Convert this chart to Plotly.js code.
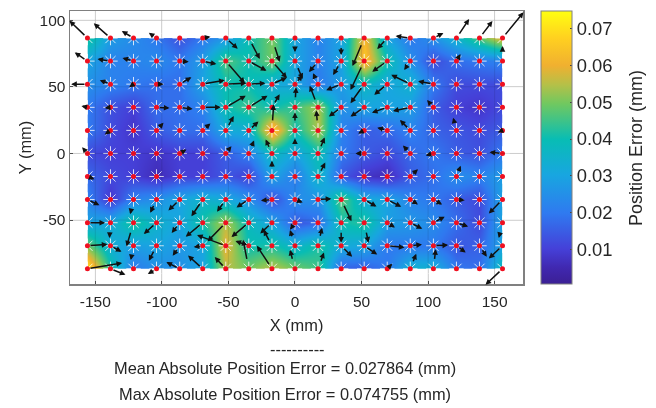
<!DOCTYPE html>
<html><head><meta charset="utf-8">
<script src="https://cdn.plot.ly/plotly-3.0.1.min.js"></script>
<style>html,body{margin:0;padding:0;background:#fff}#c{width:656px;height:408px;filter:blur(.45px)}</style>
</head><body><div id="c"></div>
<script>
const xGrid=[-155.9,-138.6,-121.3,-104,-86.6,-69.3,-52,-34.7,-17.3,0,17.3,34.7,52,69.3,86.6,104,121.3,138.6,155.9];
const yGrid=[86.6,69.3,52,34.6,17.3,0,-17.3,-34.6,-52,-69.3,-86.6];
const zErr=[
[.043,.028,.024,.02,.013,.02,.027,.04,.05,.03,.022,.03,.062,.03,.02,.025,.035,.047,.06],
[.03,.022,.022,.024,.02,.028,.047,.04,.05,.03,.022,.03,.066,.04,.025,.012,.018,.02,.022],
[.025,.022,.02,.018,.018,.03,.04,.04,.032,.03,.02,.028,.037,.03,.035,.02,.012,.012,.012],
[.02,.013,.01,.018,.018,.022,.04,.045,.04,.045,.054,.025,.03,.03,.028,.015,.01,.008,.012],
[.02,.012,.008,.015,.018,.018,.032,.033,.068,.04,.055,.022,.015,.017,.022,.016,.014,.012,.015],
[.012,.01,.01,.008,.01,.01,.015,.022,.038,.03,.04,.02,.015,.012,.017,.02,.015,.013,.02],
[.017,.012,.01,.006,.01,.01,.014,.01,.03,.02,.037,.014,.008,.006,.015,.018,.025,.022,.028],
[.022,.008,.022,.025,.03,.035,.032,.025,.012,.025,.025,.048,.032,.03,.022,.02,.015,.012,.03],
[.03,.032,.043,.035,.03,.042,.055,.038,.03,.014,.018,.04,.043,.028,.027,.024,.018,.012,.03],
[.05,.033,.028,.03,.027,.03,.06,.04,.042,.035,.042,.032,.03,.02,.02,.02,.014,.016,.03],
[.072,.042,.02,.025,.025,.03,.055,.05,.056,.05,.045,.015,.015,.02,.035,.034,.02,.018,.04]];
const uErr=[
[-18,-16.7,-11.7,-7.7,0,7.7,12,11,7.7,0,3,0,-11.7,-10,-14.7,10,12.7,13,21],
[-12.7,-13,-11,.7,9,13.7,19,17.7,15,7.7,-9,-8,-13.7,-15,-6,0,4,0,0],
[-16.3,-10.7,-4.3,7,11.7,22,20.7,16.7,15,7.7,-5,-15,-13.7,-13,-19,-15.3,3.3,4,0],
[-6,-5.7,0,13,13,18,20,18.7,7.7,1,-8.3,-12.3,-13.7,-15.3,-17.3,-6.3,0,0,0],
[0,-5.7,0,7,0,7.7,8,9.7,1.7,0,-1.7,0,-6,-10,-10.3,0,-3.3,0,-4.7],
[-5.3,0,-1,0,6.7,0,5.7,5.3,-6.3,0,6.7,0,-8.7,0,-7.3,-7.7,0,0,-13],
[7,2,0,0,0,0,-3.7,0,0,0,7.3,2,0,0,7.7,1,4.3,3.3,-1.3],
[12,0,-3.3,-6.3,-11.3,-11.3,-8.7,-12.3,-11,7.7,13.3,10.3,12.3,14,7.7,8.7,8.3,0,-13.7],
[17.7,-1,-7,-12.7,-8,-17,-18.3,-17.3,-11.7,-5,0,0,4.3,7.7,12,11.3,11.7,2.7,-3.7],
[20,11,-2.7,-7.7,-7,-9,-28.7,-13.3,-8.3,-5,4,11,13,17.3,11.7,14.7,9.3,7.3,-13.7],
[34.7,15,0,-8.7,-13.3,-14.7,-11,-5.7,-15,-5,6,0,2,5,6,2.3,-3.3,0,-17]];
const vErr=[
[17.3,14.7,7,5.3,-3,1.3,-10.7,-21,-23.7,-14,-5,-17,-28,-11,2,5,19,17,25.7],
[8.7,2,3,10,-.7,-3,-22,-9.7,-17,-18,-11,-14,-29,-10.7,-9,0,7,0,15],
[0,4,-3,0,7,4,1,1,6.7,9,11,-6,-19,-10.7,9.3,3,8.3,2,0],
[1.3,-.7,0,-.7,-1.7,0,11.7,11.7,13,20,21.7,-9.3,-9.3,-5.3,-3.7,7.3,0,0,0],
[0,-4,0,7.7,0,7,14.3,9,26,18,20,0,-3,2.7,10.3,0,12.7,0,-2],
[6.3,0,3,0,4,0,7.3,13,14,15,16,0,0,0,8,-2,5,0,1.3],
[-2.7,-3,0,0,0,0,-5.3,-3,15.7,0,14,-4,0,0,7.3,-3.7,10.7,-10.3,-11],
[-5.7,0,-14.7,-13.3,-11,-16.7,-12.3,-8,-1,-3,.7,-21.7,-7,-7.3,-5,-5,-.7,0,-14],
[0,-15.3,-23.7,-11.3,-10.3,-14,-18.7,-14.3,-10.7,-7,0,-20,-20,-4.7,-6,6,-3.7,-4.3,-15.3],
[1.3,-6,-14.3,-15,-10,-1.3,10.7,4.7,15.7,15.7,18,-11,-8.7,-1.7,1.3,.7,-6.7,-11,-12.7],
[5.7,-6,0,-5.3,6.7,13.3,11.7,29,23,19,16.3,0,-3,5,15,19.7,5,0,-16]];
const quiverScale=0.75;
const xTicks=[-150,-100,-50,0,50,100,150];
const xTickText=['-150','-100','-50','0','50','100','150'];
const yTicks=[-50,0,50,100];
const yTickText=['-50','0','50','100'];
const cbTicks=[.01,.02,.03,.04,.05,.06,.07];
const cScale=[[0,'#3b1f94'],[.06,'#4028b0'],[.128,'#4540d8'],[.26,'#2f7af0'],[.4,'#18a6e0'],[.53,'#08bdb4'],[.66,'#70c860'],[.73,'#b5c048'],[.8,'#f0b030'],[.9,'#ffd020'],[1,'#ffff10']];
const footLines=['----------','Mean Absolute Position Error = 0.027864 (mm)','Max Absolute Position Error = 0.074755 (mm)'];
const footX=[297,285,285];
const footY=[349,368,394];
const cbTitle='Position Error (mm)';
const FONT='"Liberation Sans",Arial,sans-serif', TXT='#262626';

const px=[],py=[];
yGrid.forEach(y=>xGrid.forEach(x=>{px.push(x);py.push(y);}));
const arrows=[];
yGrid.forEach((y,r)=>xGrid.forEach((x,c)=>{
  const u=uErr[r][c],v=vErr[r][c];
  if(u===0&&v===0)return;
  arrows.push({x:x+u*quiverScale,y:y+v*quiverScale,ax:x,ay:y,xref:'x',yref:'y',axref:'x',ayref:'y',
    showarrow:true,arrowhead:2,arrowsize:.75,arrowwidth:1.5,arrowcolor:'#111',standoff:0});
}));
const feet=footLines.map((t,i)=>({text:t,xref:'paper',yref:'paper',x:(footX[i]-70)/453,y:(284-footY[i])/273,
  xanchor:'center',yanchor:'middle',showarrow:false,font:{family:FONT,size:16.4,color:TXT}}));
feet.push({text:cbTitle,xref:'paper',yref:'paper',x:(636-70)/453,y:(284-148)/273,xanchor:'center',yanchor:'middle',
  textangle:-90,showarrow:false,font:{family:FONT,size:18,color:TXT}});
const grids=[...xTicks.map(v=>({type:'line',xref:'x',yref:'paper',x0:v,x1:v,y0:0,y1:1,line:{color:'rgba(0,0,0,.1)',width:1},layer:'above'})),
             ...yTicks.map(v=>({type:'line',yref:'y',xref:'paper',y0:v,y1:v,x0:0,x1:1,line:{color:'rgba(0,0,0,.1)',width:1},layer:'above'}))];
const axis={showline:true,mirror:true,linecolor:'#808080',linewidth:1.5,ticks:'inside',ticklen:3,tickcolor:'#555',
  showgrid:true,gridcolor:'#e4e4e4',zeroline:false,tickfont:{family:FONT,size:15.5,color:TXT}};
Plotly.newPlot('c',[
 {type:'contour',x:xGrid,y:yGrid,z:zErr,zmin:.0006,zmax:.0748,zauto:false,colorscale:cScale,
  contours:{coloring:'heatmap',showlines:false},line:{width:0},hoverinfo:'skip',
  colorbar:{x:(541-70)/453,xanchor:'left',xpad:0,ypad:0,y:0,yanchor:'bottom',len:1,thickness:31,
    tickvals:cbTicks,tickformat:'.2f',ticks:'inside',ticklen:2,tickcolor:'#444',outlinecolor:'#808080',outlinewidth:1,
    tickfont:{family:FONT,size:18.4,color:TXT},ticklabelposition:'outside'}},
 {type:'scatter',mode:'markers',x:px,y:py,hoverinfo:'skip',cliponaxis:false,
  marker:{symbol:'asterisk-open',size:12,color:'rgba(255,255,255,.8)',line:{color:'rgba(255,255,255,.8)',width:1}}},
 {type:'scatter',mode:'markers',x:px,y:py,hoverinfo:'skip',cliponaxis:false,
  marker:{symbol:'circle',size:5,color:'#f01020'}}
],{
 width:656,height:408,margin:{l:70,r:133,t:11,b:124},showlegend:false,paper_bgcolor:'#fff',plot_bgcolor:'#fff',
 xaxis:Object.assign({},axis,{range:[-169,171.3],tickmode:'array',tickvals:xTicks,ticktext:xTickText,ticklabelstandoff:3,title:{text:'X (mm)',standoff:10,font:{family:FONT,size:16.4,color:TXT}}}),
 yaxis:Object.assign({},axis,{range:[-98,106.9],tickmode:'array',tickvals:yTicks,ticktext:yTickText,title:{text:'Y (mm)',standoff:4,font:{family:FONT,size:16.4,color:TXT}}}),
 annotations:arrows.concat(feet),shapes:grids
},{displayModeBar:false,staticPlot:true});
</script></body></html>
